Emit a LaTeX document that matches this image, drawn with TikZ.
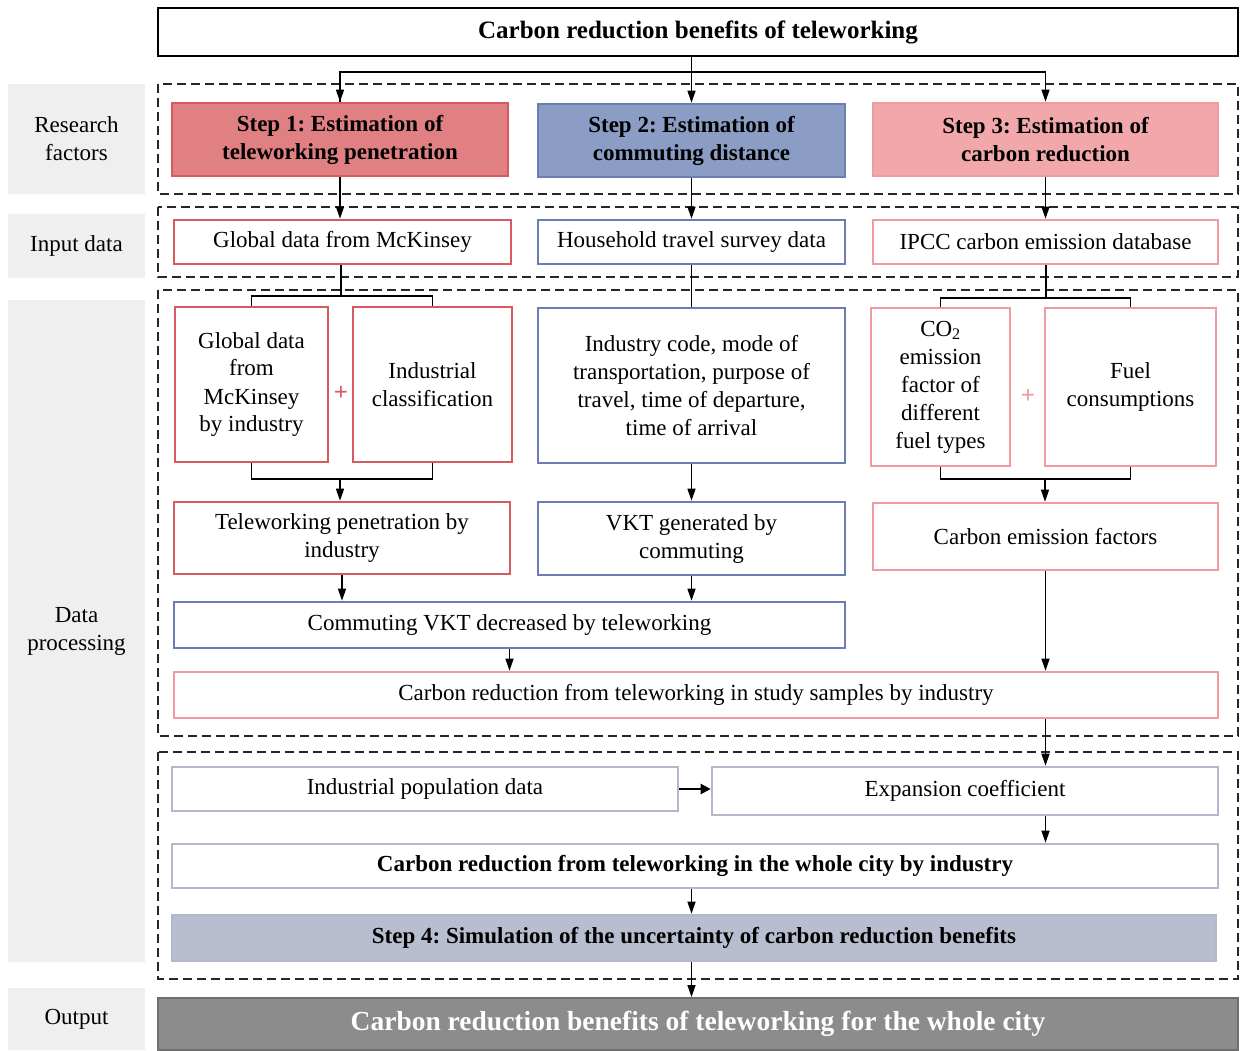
\documentclass[tikz,border=0pt]{standalone}
\usepackage{fontspec}
\setmainfont{Liberation Serif}
\usetikzlibrary{arrows.meta}
\definecolor{redB}{HTML}{D65A60}
\definecolor{redF}{HTML}{E08082}
\definecolor{bluB}{HTML}{6A7EB3}
\definecolor{bluF}{HTML}{8B9DC4}
\definecolor{pnkB}{HTML}{EE9BA1}
\definecolor{pnkF}{HTML}{F2A8AB}
\definecolor{gbB}{HTML}{B3B9CD}
\definecolor{gbF}{HTML}{B8BECF}
\definecolor{outF}{HTML}{8C8C8C}
\definecolor{outB}{HTML}{6E6E6E}
\definecolor{panelF}{HTML}{EFEFEF}
\newcommand\bx[7]{\node[#6, minimum width={#4-#2}, minimum height={#5-#3}] (#1) at ({(#2+#4)/2},{(#3+#5)/2}) {#7};}
\frenchspacing
\begin{document}
\begin{tikzpicture}[x=1pt,y=-1pt,
  box/.style={draw, line width=2.6pt, inner sep=0pt, align=center, font=\fontsize{23}{28}\selectfont},
  redbox/.style={box, draw=redB},
  blubox/.style={box, draw=bluB},
  pnkbox/.style={box, draw=pnkB},
  gbbox/.style={box, draw=gbB},
  stepfont/.style={font=\fontsize{23}{28}\selectfont\bfseries},
  panel/.style={fill=panelF, inner sep=0pt, align=center, font=\fontsize{23}{28}\selectfont},
  dbox/.style={draw=black!85, dashed, dash pattern=on 9pt off 5pt, line width=1.3pt},
  line/.style={draw=black, line width=1.3pt},
  arr/.style={line, -{Triangle[length=12pt,width=8pt]}},
  plussign/.style={font=\fontsize{25}{25}\selectfont\bfseries, inner sep=0pt}
]
\useasboundingbox (0,0) rectangle (1242,1051);

% left panels
\bx{lrf}{8}{84}{145}{194}{panel}{Research\\factors}
\bx{lin}{8}{214}{145}{278}{panel}{Input data}
\bx{ldp}{8}{300}{145}{962}{panel}{Data\\processing}
\bx{lout}{8}{988}{145}{1050}{panel}{Output}

% dashed groups
\draw[dbox] (158,84) rectangle (1238,194);
\draw[dbox] (158,207) rectangle (1238,277);
\draw[dbox] (158,290) rectangle (1238,736);
\draw[dbox] (158,752) rectangle (1238,979);

% title
\bx{title}{158}{8}{1238}{56}{box, line width=2pt, font=\fontsize{25}{28}\selectfont\bfseries}{Carbon reduction benefits of teleworking}

% steps
\bx{s1}{172}{103}{508}{176}{box, draw=redB, fill=redF, stepfont}{Step 1: Estimation of\\teleworking penetration}
\bx{s2}{538}{104}{845}{177}{box, draw=bluB, fill=bluF, stepfont}{Step 2: Estimation of\\commuting distance}
\bx{s3}{873}{103}{1218}{176}{box, draw=pnkB, fill=pnkF, stepfont}{Step 3: Estimation of\\carbon reduction}

% input data
\bx{in1}{174}{220}{511}{264}{redbox}{Global data from McKinsey}
\bx{in2}{538}{220}{845}{264}{blubox}{Household travel survey data}
\bx{in3}{873}{220}{1218}{264}{pnkbox}{IPCC carbon emission database}

% processing row 1
\bx{g1}{175}{307}{328}{462}{redbox}{Global data\\from\\McKinsey\\by industry}
\bx{g2}{353}{307}{512}{462}{redbox}{Industrial\\classification}
\bx{ic}{538}{308}{845}{463}{blubox}{Industry code, mode of\\transportation, purpose of\\travel, time of departure,\\time of arrival}
\bx{co2}{871}{308}{1010}{466}{pnkbox}{CO\textsubscript{2}\\emission\\factor of\\different\\fuel types}
\bx{fuel}{1045}{308}{1216}{466}{pnkbox}{Fuel\\consumptions}
\node[plussign, text=redB] (p1) at (341,393) {+};
\node[plussign, text=pnkB] (p2) at (1028,396) {+};

% processing row 2
\bx{tp}{174}{502}{510}{574}{redbox}{Teleworking penetration by\\industry}
\bx{vkt}{538}{502}{845}{575}{blubox}{VKT generated by\\commuting}
\bx{cef}{873}{503}{1218}{570}{pnkbox}{Carbon emission factors}
\bx{cvkt}{174}{602}{845}{648}{blubox}{Commuting VKT decreased by teleworking}
\bx{cr}{174}{672}{1218}{718}{pnkbox}{Carbon reduction from teleworking in study samples by industry}

% scaling
\bx{ipd}{172}{767}{678}{811}{gbbox}{Industrial population data}
\bx{ec}{712}{767}{1218}{815}{gbbox}{Expansion coefficient}
\bx{wc}{172}{844}{1218}{888}{gbbox, font=\fontsize{23}{28}\selectfont\bfseries}{Carbon reduction from teleworking in the whole city by industry}
\bx{s4}{172}{915}{1216}{961}{box, draw=gbB, fill=gbF, stepfont}{Step 4: Simulation of the uncertainty of carbon reduction benefits}
\bx{out}{158}{998}{1238}{1050}{box, draw=outB, fill=outF, line width=2pt, text=white, font=\fontsize{27.5}{30}\selectfont\bfseries}{Carbon reduction benefits of teleworking for the whole city}

% connectors: title to steps
\coordinate (hub) at (692,72);
\draw[arr] (title.south -| s2.north) -- (s2.north);
\draw[line] (hub) -| (s1.north);
\draw[arr] (hub -| s1.north) -- (s1.north);
\draw[arr] (hub) -| (s3.north);

% steps to inputs
\draw[arr] (s1.south) -- (s1.south |- in1.north);
\draw[arr] (s2.south) -- (s2.south |- in2.north);
\draw[arr] (s3.south) -- (s3.south |- in3.north);

% inputs to processing
\coordinate (j1) at (341,296);
\coordinate (j3) at (1046,298);
\draw[line] (in1.south -| j1) -- (j1);
\draw[line] (g1.north) |- (j1) -| (g2.north);
\draw[line] (in2.south) -- (in2.south |- ic.north);
\draw[line] (in3.south -| j3) -- (j3);
\draw[line] (co2.north) |- (j3) -| (fuel.north);

% brackets below row 1
\coordinate (k1) at (340,479);
\coordinate (k3) at (1045,479);
\draw[line] (g1.south) |- (k1) -| (g2.south);
\draw[arr] (k1) -- (k1 |- tp.north);
\draw[arr] (ic.south) -- (ic.south |- vkt.north);
\draw[line] (co2.south) |- (k3) -| (fuel.south);
\draw[arr] (k3) -- (k3 |- cef.north);

% row 2 connections
\draw[arr] (tp.south) -- (tp.south |- cvkt.north);
\draw[arr] (vkt.south) -- (vkt.south |- cvkt.north);
\draw[arr] (cvkt.south) -- (cvkt.south |- cr.north);
\draw[arr] (cef.south) -- (cef.south |- cr.north);
\draw[arr] (cr.south -| cef.south) -- (cef.south |- ec.north);
\draw[arr, line width=2.2pt, -{Triangle[length=10pt,width=10pt]}] (ipd.east) -- (ipd.east -| ec.west);
\draw[arr] (ec.south -| cef.south) -- (cef.south |- wc.north);
\draw[arr] (wc.south -| s2.south) -- (s2.south |- s4.north);
\draw[arr] (s4.south -| s2.south) -- (s2.south |- out.north);
\end{tikzpicture}
\end{document}
